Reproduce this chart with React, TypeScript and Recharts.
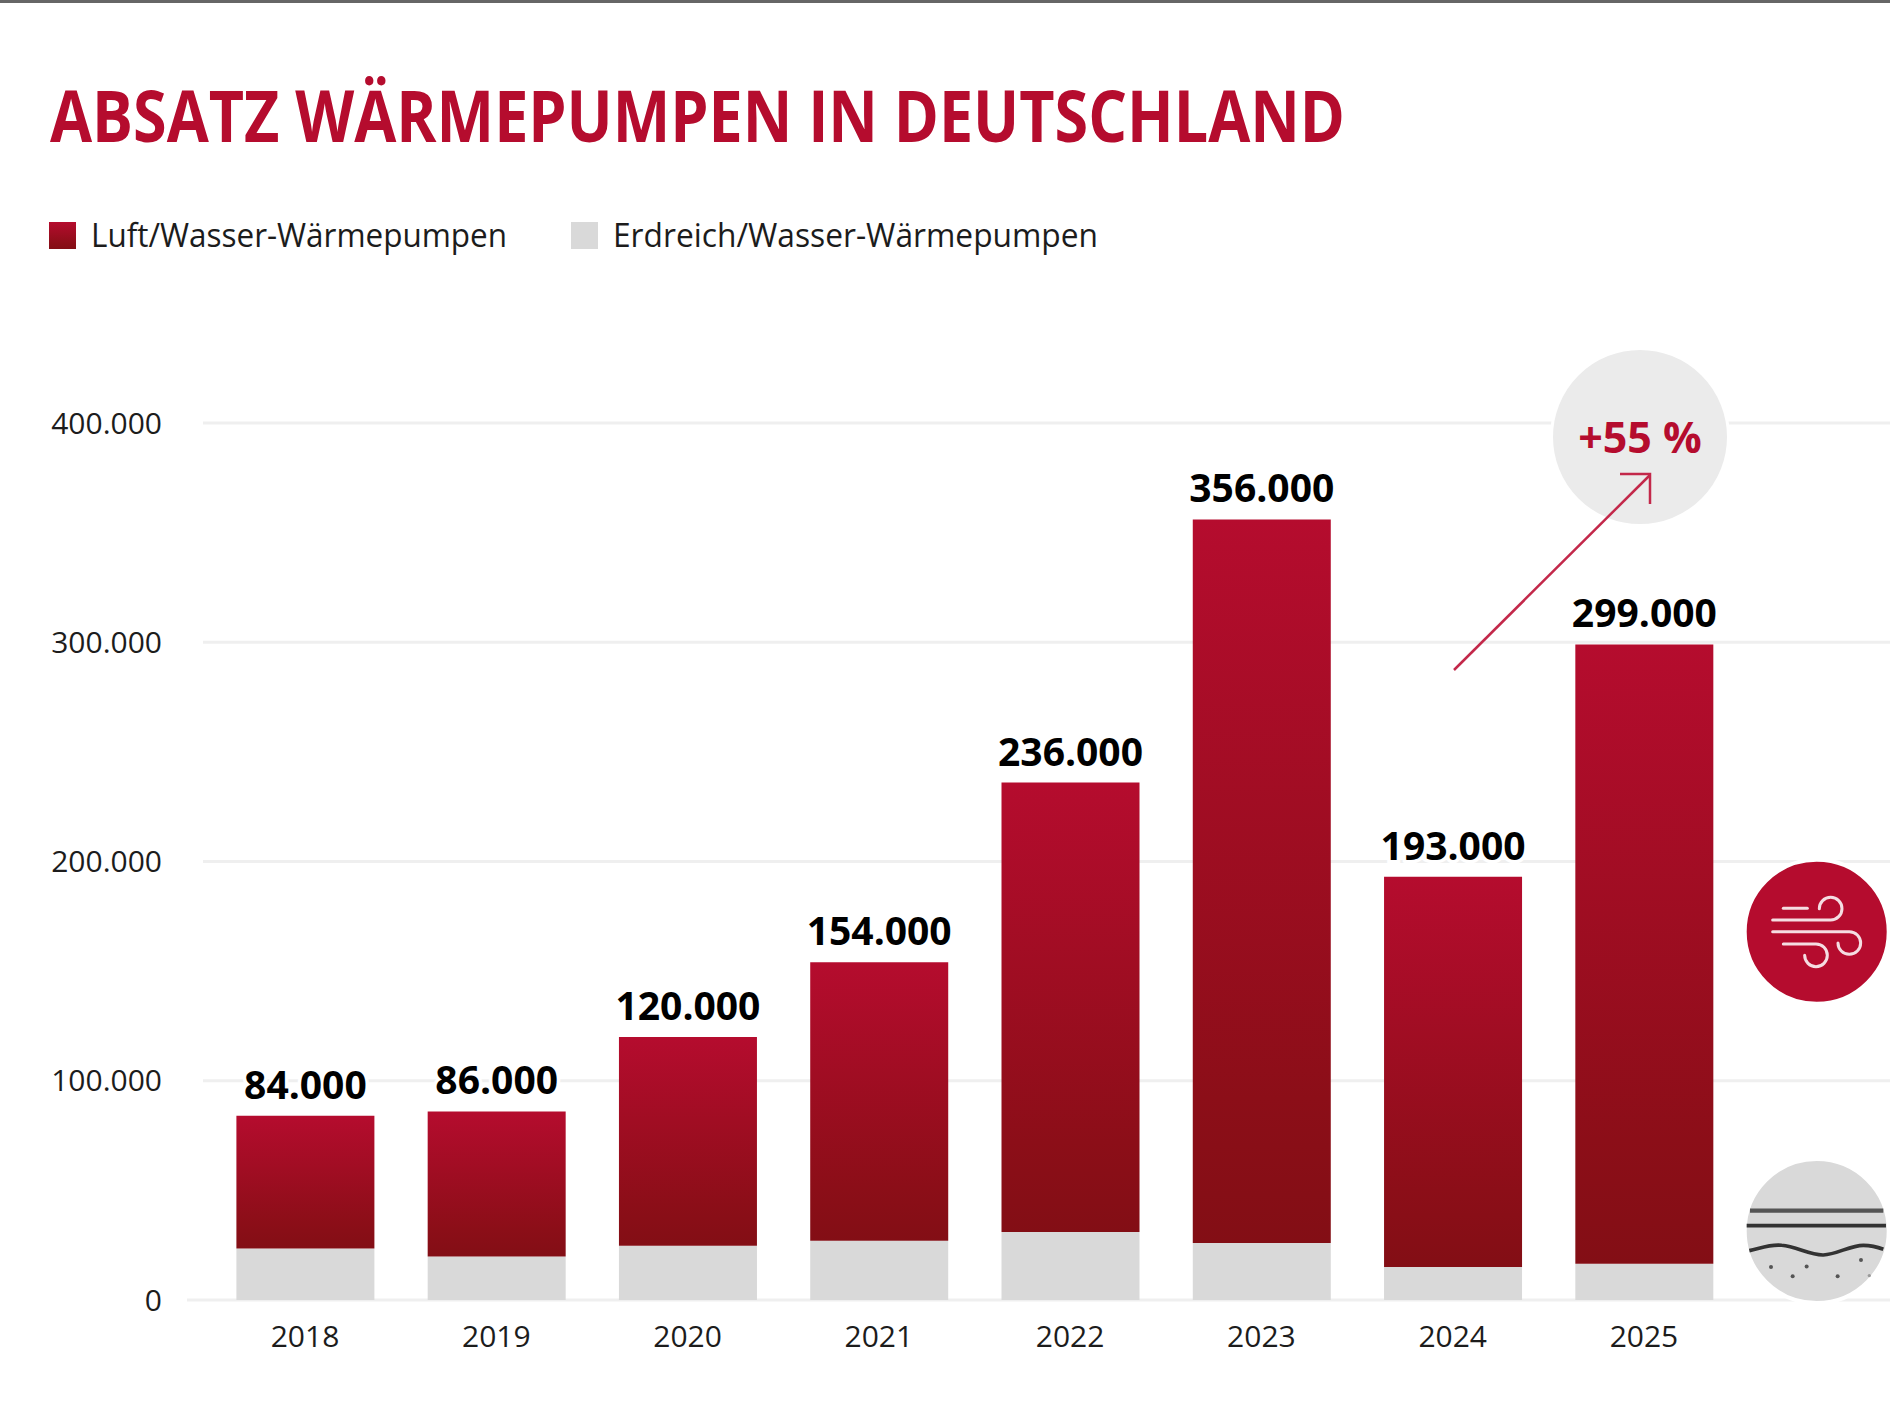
import React from 'react';
import { BarChart, Bar, XAxis, YAxis, CartesianGrid, Legend, LabelList } from 'recharts';

const years = ['2018', '2019', '2020', '2021', '2022', '2023', '2024', '2025'];
const totals = [84000, 86000, 120000, 154000, 236000, 356000, 193000, 299000];
const ground = [23500, 19800, 24700, 27000, 31000, 26000, 15000, 16500];
const yTicks = [0, 100000, 200000, 300000, 400000];
const seriesNames = { air: 'Luft/Wasser-Wärmepumpen', ground: 'Erdreich/Wasser-Wärmepumpen' };
const titleText = 'ABSATZ WÄRMEPUMPEN IN DEUTSCHLAND';
const growthText = '+55 %';

const rows = years.map((year, i) => ({
  year,
  total: totals[i],
  ground: ground[i],
  air: totals[i] - ground[i],
}));

const W = 1890;
const H = 1417;
const MARGIN_TOP = 423;
const AXIS_BAND = 117;
const FONT = '"Open Sans", sans-serif';
const RED = '#b50c2e';
const GREY = '#d9d9d9';
const TEXT = '#1c1c1c';

const fmt = (v: number) => String(v).replace(/\B(?=(\d{3})+$)/g, '.');

const gridLine = (p: any) => {
  const base = Math.abs(p.y1 - (H - AXIS_BAND)) < 1;
  return (
    <line key={p.key} x1={base ? p.x1 : p.x1 + 16} x2={p.x2} y1={p.y1} y2={p.y2} stroke="#efefef" strokeWidth={3} />
  );
};

const totalLabel = (p: any) => (
  <text
    x={p.x + p.width / 2}
    y={p.y - 17}
    textAnchor="middle"
    fontFamily={FONT}
    fontWeight={700}
    fontSize={39}
    fill="#000"
    stroke="#fff"
    strokeWidth={7}
    paintOrder="stroke"
  >
    {fmt(p.value)}
  </text>
);

const legendContent = (p: any) => {
  const items = [...(p.payload || [])].reverse();
  const slots = [
    { x: 49, tx: 91, tw: 416 },
    { x: 571, tx: 613, tw: 485 },
  ];
  return (
    <svg width={W} height={80} style={{ display: 'block', overflow: 'visible' }}>
      {items.map((it: any, i: number) => (
        <g key={it.value}>
          <rect x={slots[i].x} y={22} width={27} height={27} fill={it.color} />
          <text
            x={slots[i].tx}
            y={47}
            fontFamily={FONT}
            fontSize={33}
            fill={TEXT}
            textLength={slots[i].tw}
            lengthAdjust="spacingAndGlyphs"
          >
            {it.value}
          </text>
        </g>
      ))}
    </svg>
  );
};

export default function App() {
  return (
    <div style={{ position: 'absolute', left: 0, top: 0, width: W, height: H, background: '#fff', overflow: 'hidden' }}>
      <div style={{ position: 'absolute', left: 0, top: 0, width: W, height: 3, background: '#666' }} />
      <BarChart
        width={W}
        height={H}
        data={rows}
        margin={{ top: MARGIN_TOP, right: 0, bottom: 0, left: 0 }}
        barSize={138}
        style={{ position: 'absolute', left: 0, top: 0 }}
      >
        <defs>
          <linearGradient id="airFill" x1="0" y1="0" x2="0" y2="1">
            <stop offset="0" stopColor="#b50c2e" />
            <stop offset="0.8" stopColor="#8c0e18" />
            <stop offset="1" stopColor="#830e15" />
          </linearGradient>
        </defs>
        <text
          x={50}
          y={142}
          fontFamily={FONT}
          fontWeight={700}
          fontSize={72}
          fill={RED}
          textLength={1295}
          lengthAdjust="spacingAndGlyphs"
        >
          {titleText}
        </text>
        <CartesianGrid vertical={false} horizontal={gridLine} />
        <XAxis
          dataKey="year"
          axisLine={false}
          tickLine={false}
          tickSize={0}
          tickMargin={26}
          height={AXIS_BAND}
          padding={{ left: 22.4, right: 150.4 }}
          interval={0}
          tick={{ fontFamily: FONT, fontSize: 30, fill: TEXT }}
        />
        <YAxis
          domain={[0, 400000]}
          ticks={yTicks}
          width={187}
          axisLine={false}
          tickLine={false}
          tickSize={0}
          tickMargin={25}
          tickFormatter={fmt}
          tick={{ fontFamily: FONT, fontSize: 30, fill: TEXT }}
        />
        <Legend
          verticalAlign="middle"
          align="center"
          layout="horizontal"
          content={legendContent}
          wrapperStyle={{ position: 'absolute', left: 0, top: 200, width: W, height: 80, margin: 0 }}
        />
        <Bar dataKey="ground" name={seriesNames.ground} stackId="a" fill={GREY} isAnimationActive={false} />
        <Bar dataKey="air" name={seriesNames.air} stackId="a" fill="url(#airFill)" isAnimationActive={false}>
          <LabelList dataKey="total" content={totalLabel} />
        </Bar>

        <circle cx={1640} cy={437} r={88.5} fill="#ebebeb" stroke="#fff" strokeWidth={3} />
        <text x={1640} y={453} textAnchor="middle" fontFamily={FONT} fontWeight={700} fontSize={43} fill={RED}>
          {growthText}
        </text>
        <g stroke="#c3284a" strokeWidth={2.5} fill="none">
          <line x1={1454} y1={670} x2={1650} y2={475} />
          <polyline points="1620,474 1650,474 1650,504" />
        </g>

        <circle cx={1816.7} cy={931.7} r={72} fill={RED} stroke="#fff" strokeWidth={4} />
        <g transform="translate(1700,840) scale(0.3333)" fill="none" stroke="#f5dde2" strokeWidth={9} strokeLinecap="round">
          <path d="M250 205 H322" />
          <path d="M218 240 H392 A34 34 0 1 0 358 206" />
          <path d="M218 275 H448 A34 34 0 1 1 414 309" />
          <path d="M250 312 H348 A34 34 0 1 1 314 346" />
        </g>

        <circle cx={1816.7} cy={1231} r={72} fill={GREY} stroke="#fff" strokeWidth={4} />
        <g transform="translate(1700,840) scale(0.3333)" fill="none" stroke="#333" strokeWidth={11}>
          <path d="M150 1112 H550" stroke="#555" strokeWidth={13} />
          <path d="M140 1157 H558" />
          <path d="M148 1232 C190 1222 215 1212 245 1216 C290 1220 330 1246 370 1245 C410 1244 450 1216 490 1216 C515 1216 535 1222 550 1228" />
        </g>
        <g transform="translate(1700,840) scale(0.3333)" fill="#555">
          <circle cx={213} cy={1281} r={6} />
          <circle cx={278} cy={1309} r={6} />
          <circle cx={320} cy={1280} r={6} />
          <circle cx={413} cy={1309} r={6} />
          <circle cx={483} cy={1260} r={6} />
          <circle cx={508} cy={1307} r={5} fill="#999" />
        </g>
      </BarChart>
    </div>
  );
}
